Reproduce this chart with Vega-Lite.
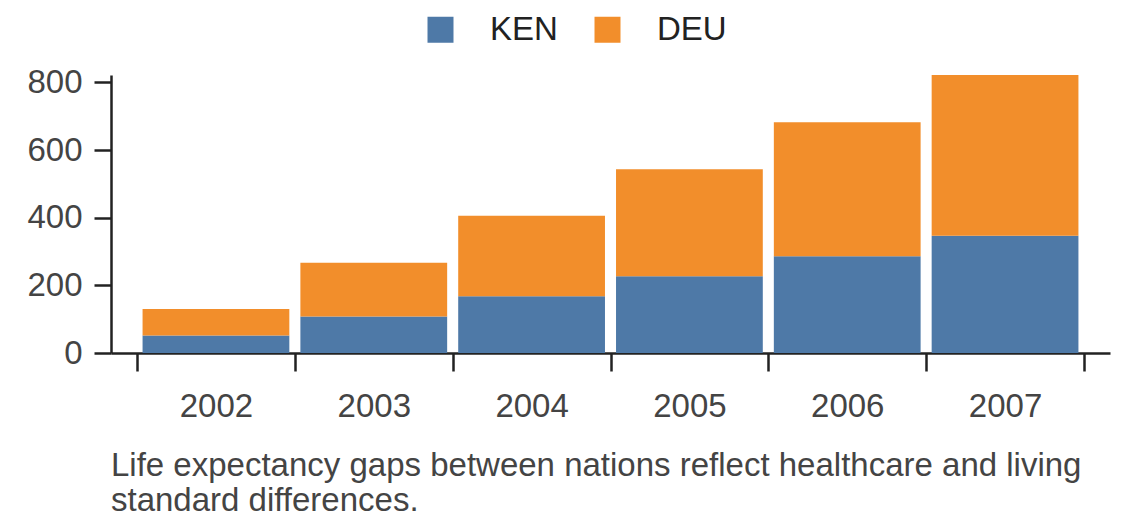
{
  "$schema": "https://vega.github.io/schema/vega-lite/v6.json",
  "autosize": "none",
  "padding": {"left": 111, "top": 75, "right": 30, "bottom": 175},
  "width": 999,
  "height": 278,
  "background": "white",
  "data": {
    "values": [
      {"year": "2002", "country": "KEN", "value": 52, "order": 0},
      {"year": "2002", "country": "DEU", "value": 78, "order": 1},
      {"year": "2003", "country": "KEN", "value": 108, "order": 0},
      {"year": "2003", "country": "DEU", "value": 159, "order": 1},
      {"year": "2004", "country": "KEN", "value": 168, "order": 0},
      {"year": "2004", "country": "DEU", "value": 238, "order": 1},
      {"year": "2005", "country": "KEN", "value": 227, "order": 0},
      {"year": "2005", "country": "DEU", "value": 316, "order": 1},
      {"year": "2006", "country": "KEN", "value": 286, "order": 0},
      {"year": "2006", "country": "DEU", "value": 396, "order": 1},
      {"year": "2007", "country": "KEN", "value": 347, "order": 0},
      {"year": "2007", "country": "DEU", "value": 475, "order": 1}
    ]
  },
  "title": {
    "text": ["Life expectancy gaps between nations reflect healthcare and living", "standard differences."],
    "orient": "bottom",
    "anchor": "start",
    "frame": "group",
    "offset": 27,
    "font": "Liberation Sans",
    "fontSize": 33,
    "fontWeight": "normal",
    "color": "#444",
    "lineHeight": 35
  },
  "mark": {"type": "bar", "width": {"band": 0.93}},
  "encoding": {
    "x": {
      "field": "year",
      "type": "ordinal",
      "scale": {"paddingInner": 0, "paddingOuter": 0.165},
      "axis": {
        "title": null,
        "labelAngle": 0,
        "tickBand": "extent",
        "tickSize": 18,
        "tickWidth": 2.5,
        "tickColor": "#222",
        "domainColor": "#222",
        "domainWidth": 2.5,
        "labelFont": "Liberation Sans",
        "labelFontSize": 33,
        "labelColor": "#444",
        "labelPadding": 19
      }
    },
    "y": {
      "field": "value",
      "type": "quantitative",
      "stack": "zero",
      "scale": {"domain": [0, 822], "nice": false},
      "axis": {
        "title": null,
        "grid": false,
        "values": [0, 200, 400, 600, 800],
        "tickSize": 17,
        "tickWidth": 2.5,
        "tickColor": "#222",
        "domainColor": "#222",
        "domainWidth": 2.5,
        "labelFont": "Liberation Sans",
        "labelFontSize": 33,
        "labelColor": "#444",
        "labelPadding": 12
      }
    },
    "color": {
      "field": "country",
      "type": "nominal",
      "scale": {"domain": ["KEN", "DEU"], "range": ["#4e79a7", "#f28e2b"]},
      "legend": {
        "title": null,
        "orient": "none",
        "direction": "horizontal",
        "legendX": 313,
        "legendY": -62,
        "symbolType": "square",
        "symbolSize": 676,
        "symbolOpacity": 1,
        "symbolStrokeWidth": 0,
        "labelFont": "Liberation Sans",
        "labelFontSize": 33,
        "labelColor": "#222",
        "labelOffset": 33,
        "columnPadding": 33
      }
    },
    "order": {"field": "order", "type": "quantitative"}
  },
  "config": {"view": {"stroke": null}}
}
